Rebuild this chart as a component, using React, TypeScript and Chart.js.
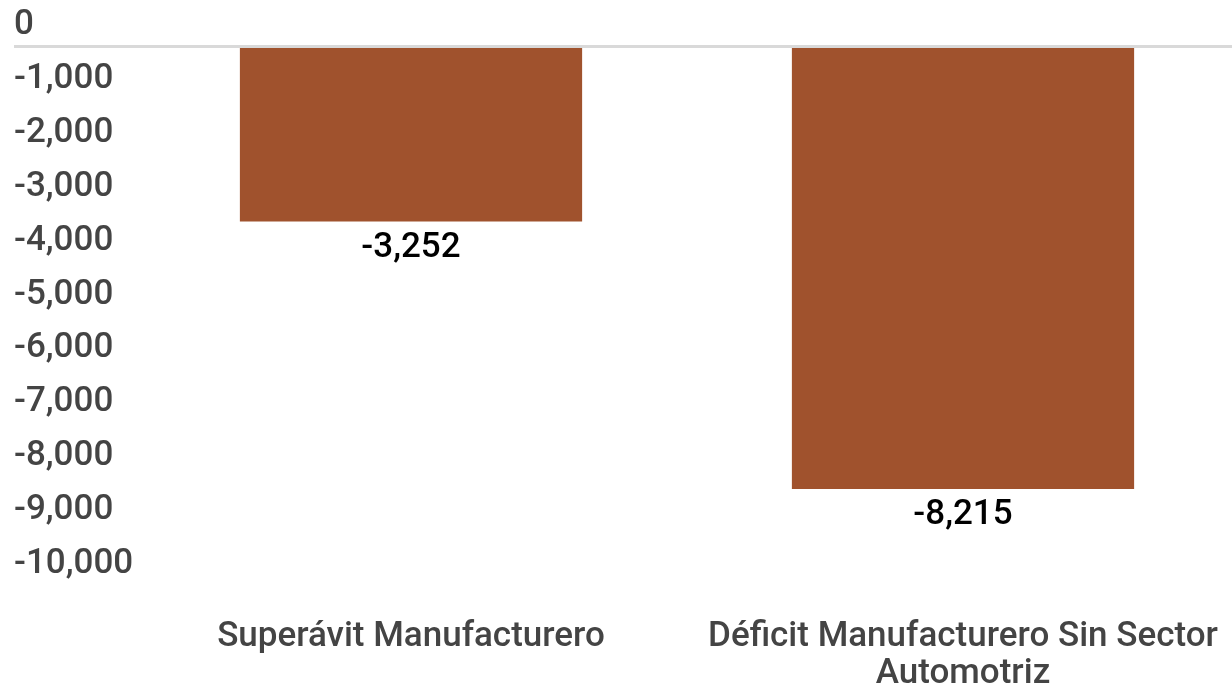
import React, { useEffect, useRef } from "react";
import { Chart, registerables } from "chart.js";

Chart.register(...registerables);

const categories: (string | string[])[] = [
  "Superávit Manufacturero",
  ["Déficit Manufacturero Sin Sector", "Automotriz"],
];
const values: number[] = [-3252, -8215];
const yMin = -10000;
const yMax = 0;
const yStep = 1000;

const FONT = "Roboto";
const FONT_SIZE = 35;
const FONT_WEIGHT = 500;
const BAR_COLOR = "#a0522d";
const TEXT_GRAY = "#444444";
const fmt = (v: number) => Number(v).toLocaleString("en-US");

export default function App() {
  const ref = useRef<HTMLCanvasElement>(null);

  useEffect(() => {
    if (!ref.current) return;

    const zeroLine = {
      id: "zeroLine",
      afterDatasetsDraw(chart: any) {
        const ys = chart.scales.y;
        const ctx = chart.ctx;
        const py = ys.getPixelForValue(0);
        ctx.save();
        ctx.strokeStyle = "#d9d9d9";
        ctx.lineWidth = 3;
        ctx.beginPath();
        ctx.moveTo(ys.left, py);
        ctx.lineTo(chart.chartArea.right, py);
        ctx.stroke();
        ctx.restore();
      },
    };

    const valueLabels = {
      id: "valueLabels",
      afterDatasetsDraw(chart: any) {
        const ctx = chart.ctx;
        const meta = chart.getDatasetMeta(0);
        ctx.save();
        ctx.font = `${FONT_WEIGHT} ${FONT_SIZE}px ${FONT}`;
        ctx.fillStyle = "#000000";
        ctx.textAlign = "center";
        ctx.textBaseline = "alphabetic";
        meta.data.forEach((bar: any, i: number) => {
          const v = chart.data.datasets[0].data[i] as number;
          ctx.fillText(fmt(v), bar.x, bar.y + 35);
        });
        ctx.restore();
      },
    };

    const chart = new Chart(ref.current, {
      type: "bar",
      data: {
        labels: categories,
        datasets: [
          {
            data: values,
            backgroundColor: BAR_COLOR,
            borderWidth: 0,
            barPercentage: 0.62,
            categoryPercentage: 1,
          },
        ],
      },
      options: {
        responsive: false,
        animation: false,
        devicePixelRatio: 1,
        layout: { padding: { left: 14, top: 46.5, right: 1, bottom: 0 } },
        plugins: {
          legend: { display: false },
          tooltip: { enabled: false },
        },
        scales: {
          x: {
            grid: { display: false, drawTicks: false },
            border: { display: false },
            ticks: {
              color: TEXT_GRAY,
              font: { family: FONT, size: FONT_SIZE, weight: FONT_WEIGHT, lineHeight: 1.05 },
              padding: 34,
              maxRotation: 0,
              autoSkip: false,
            },
            afterFit: (s: any) => {
              s.height = 102;
              s.paddingLeft = 0;
              s.paddingRight = 0;
            },
          },
          y: {
            min: yMin,
            max: yMax,
            grid: { display: false, drawTicks: false },
            border: { display: false },
            ticks: {
              stepSize: yStep,
              color: TEXT_GRAY,
              font: { family: FONT, size: FONT_SIZE, weight: FONT_WEIGHT },
              crossAlign: "far",
              labelOffset: -21,
              padding: 0,
              callback: (v: any) => fmt(v),
            },
            afterFit: (s: any) => {
              s.width = 121;
              s.paddingTop = 0;
              s.paddingBottom = 0;
            },
          },
        },
      },
      plugins: [zeroLine, valueLabels],
    });

    return () => chart.destroy();
  }, []);

  return (
    <div
      style={{
        position: "fixed",
        left: 0,
        top: 0,
        width: 1232,
        height: 687,
        overflow: "hidden",
        background: "#ffffff",
      }}
    >
      <canvas
        ref={ref}
        width={1240}
        height={687}
        style={{ display: "block", width: 1240, height: 687 }}
      />
    </div>
  );
}
